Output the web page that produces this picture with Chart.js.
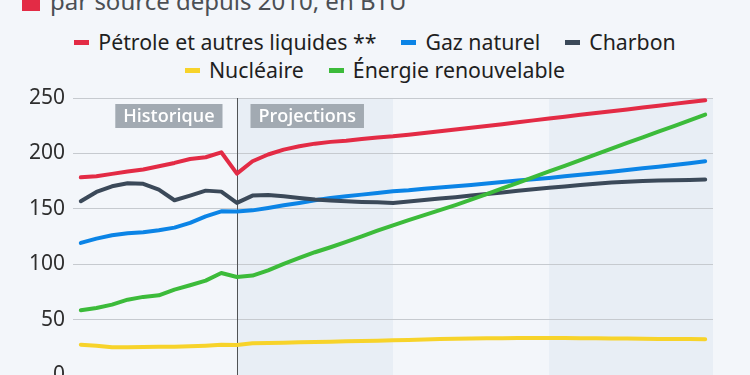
<!DOCTYPE html>
<html>
<head>
<meta charset="utf-8">
<script src="https://cdn.jsdelivr.net/npm/chart.js@4.4.0/dist/chart.umd.min.js"></script>
<style>
  html, body { margin:0; padding:0; width:750px; height:375px; overflow:hidden; background:#f3f6fa; font-family:"Noto Sans", sans-serif; }
  #wrap { position:relative; width:750px; height:375px; overflow:hidden; }
  #title { position:absolute; left:50px; top:-11px; font-size:24px; line-height:24px; color:#4b4f54; white-space:nowrap; }
  #sq { position:absolute; left:22px; top:-7px; width:18px; height:18px; background:#e32b45; }
  .row { position:absolute; left:0; width:750px; display:flex; justify-content:center; align-items:center; height:28px; line-height:28px; font-size:21.3px; color:#1f1f1f; white-space:nowrap; }
  .item { display:flex; align-items:center; margin:0 12.5px; }
  .mk { display:inline-block; width:15px; height:5px; margin-right:9px; }
  canvas { position:absolute; left:0; top:0; }
</style>
</head>
<body>
<div id="wrap">
  <div id="sq"></div>
  <div id="title">par source depuis 2010, en BTU</div>
  <div class="row" id="row1" style="top:28px"></div>
  <div class="row" id="row2" style="top:56px"></div>
  <canvas id="c" width="750" height="410"></canvas>
</div>
<script>
const years = [2010,2011,2012,2013,2014,2015,2016,2017,2018,2019,2020,2021,2022,2023,2024,2025,2026,2027,2028,2029,2030,2031,2032,2033,2034,2035,2036,2037,2038,2039,2040,2041,2042,2043,2044,2045,2046,2047,2048,2049,2050];

const petrole = [178.4,179.3,181.5,183.6,185.4,188.4,191.4,195,196.5,201,181.8,192.9,199,203.4,206.4,208.8,210.4,211.5,213,214.3,215.4,216.9,218.4,219.9,221.5,223.1,224.8,226.4,228.1,229.8,231.5,233.1,234.8,236.4,238.1,239.7,241.4,243,244.7,246.3,248];
const gaz = [119.2,123.1,126.1,127.9,128.8,130.6,133,137.3,143.2,147.7,147.5,148.6,150.8,153.2,155.3,157.7,159.8,161.3,162.8,164.3,165.8,166.7,168,169.2,170.3,171.5,172.8,174.2,175.5,176.7,177.9,179.3,180.7,182.1,183.5,185,186.5,188,189.6,191.2,192.9];
const charbon = [156.8,165.2,170.3,173,172.5,167.3,157.7,161.9,166.4,165.5,155.3,161.9,162.5,161.3,159.8,158.3,157.4,156.8,156.2,155.9,155.3,156.5,158,159.2,160.5,161.9,163.3,164.8,166.2,167.6,168.9,170.2,171.5,172.7,173.7,174.5,175.1,175.5,175.8,176.1,176.4];
const nucleaire = [27.4,26.5,25,25,25.3,25.6,25.6,25.9,26.5,27.4,27.1,28.6,28.9,29.2,29.5,29.8,30.1,30.4,30.7,31,31.3,31.7,32.1,32.5,32.7,32.9,33.1,33.2,33.3,33.4,33.4,33.3,33.2,33.1,33,32.9,32.7,32.6,32.5,32.4,32.2];
const renouvelable = [58.4,60.5,63.5,68,70.5,71.9,77.1,81,85.2,92.1,88.5,89.7,94.5,100.3,105.7,110.8,115.3,120.1,125.2,130.3,135.1,139.8,144.3,148.8,153.4,158.3,163.3,168.4,173.4,178.5,183.7,188.8,194,199.1,204.3,209.4,214.5,219.6,224.7,229.8,235];

const seriesNames = ["Pétrole et autres liquides **","Gaz naturel","Charbon","Nucléaire","Énergie renouvelable"];
const seriesColors = ["#e32b45","#0b84e6","#3b4959","#f7d32a","#3cbb3a"];
const yTicks = [0,50,100,150,200,250];
const splitYear = 2020;
const shadedRanges = [[2020,2030],[2040,2050.5]];
const periodLabels = ["Historique","Projections"];

const allSeries = [petrole, gaz, charbon, nucleaire, renouvelable];

// HTML legend
const legendRows = [[0,1,2],[3,4]];
legendRows.forEach((r, ri) => {
  const row = document.getElementById(ri === 0 ? 'row1' : 'row2');
  r.forEach(i => {
    const it = document.createElement('span'); it.className = 'item';
    const mk = document.createElement('span'); mk.className = 'mk'; mk.style.background = seriesColors[i];
    const tx = document.createElement('span'); tx.textContent = seriesNames[i];
    it.appendChild(mk); it.appendChild(tx); row.appendChild(it);
  });
});

const decor = {
  id: 'decor',
  beforeDraw(chart) {
    const {ctx, chartArea: a, scales: {x}} = chart;
    ctx.save();
    ctx.fillStyle = '#e8eef5';
    shadedRanges.forEach(([s, e]) => {
      const x0 = x.getPixelForValue(s);
      const x1 = Math.min(x.getPixelForValue(e), a.right);
      ctx.fillRect(x0, a.top, x1 - x0, chart.height - a.top);
    });
    ctx.restore();
  },
  beforeDatasetsDraw(chart) {
    const {ctx, chartArea: a, scales: {x}} = chart;
    const xs = Math.round(x.getPixelForValue(splitYear)) + 0.5;
    ctx.save();
    ctx.strokeStyle = '#505355';
    ctx.lineWidth = 1;
    ctx.beginPath(); ctx.moveTo(xs, a.top); ctx.lineTo(xs, chart.height); ctx.stroke();
    ctx.font = '600 18px "Open Sans"';
    ctx.textBaseline = 'middle';
    const top = a.top + 6, h = 24, pad = 8;
    // Historique (left of line)
    let w = ctx.measureText(periodLabels[0]).width + 2 * pad;
    let bx = xs - 15 - w;
    ctx.fillStyle = '#a2aab2'; ctx.fillRect(bx, top, w, h);
    ctx.fillStyle = '#ffffff'; ctx.textAlign = 'left'; ctx.fillText(periodLabels[0], bx + pad, top + h / 2 + 1);
    // Projections (right of line)
    w = ctx.measureText(periodLabels[1]).width + 2 * pad;
    bx = xs + 13;
    ctx.fillStyle = '#a2aab2'; ctx.fillRect(bx, top, w, h);
    ctx.fillStyle = '#ffffff'; ctx.fillText(periodLabels[1], bx + pad, top + h / 2 + 1);
    ctx.restore();
  }
};

new Chart(document.getElementById('c'), {
  type: 'line',
  data: {
    datasets: allSeries.map((s, i) => ({
      label: seriesNames[i],
      data: s.map((v, k) => ({x: years[k], y: v})),
      borderColor: seriesColors[i],
      backgroundColor: seriesColors[i],
      borderWidth: 4,
      borderCapStyle: 'round',
      borderJoinStyle: 'round',
      pointRadius: 0,
      tension: 0,
      fill: false,
      order: allSeries.length - i
    }))
  },
  options: {
    responsive: false,
    animation: false,
    events: [],
    layout: { padding: { left: 0, right: 37, top: 98, bottom: 35 } },
    plugins: { legend: { display: false }, tooltip: { enabled: false }, title: { display: false } },
    scales: {
      x: {
        type: 'linear', min: 2009.5, max: 2050.5, display: false,
        grid: { display: false }
      },
      y: {
        min: 0, max: 250,
        afterFit(scale) { scale.width = 73; },
        afterBuildTicks(scale) { scale.ticks = yTicks.map(v => ({value: v})); },
        border: { display: false },
        grid: { color: '#c6cacf', lineWidth: 1, drawTicks: false },
        ticks: { padding: 8, color: '#2e2e2e', font: { family: 'Noto Sans', size: 21 } }
      }
    }
  },
  plugins: [decor]
});
</script>
</body>
</html>
